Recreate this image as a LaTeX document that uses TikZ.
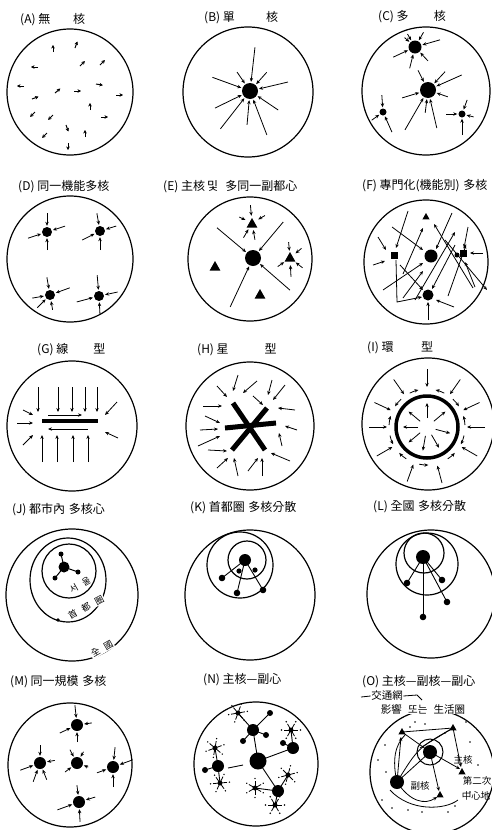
\documentclass[tikz,border=0pt]{standalone}
\usepackage{fontspec}
\newfontfamily\kr{Noto Sans CJK KR}
\usetikzlibrary{arrows.meta}
\tikzset{
  ring/.style={line width=1.2pt},
  arr/.style={line width=0.8pt,-{Stealth[length=4pt,width=3.4pt]}},
  sarr/.style={line width=1pt,-{Stealth[length=3.5pt,width=3.6pt]}},
  thinl/.style={line width=0.8pt},
  ttl/.style={anchor=west,inner sep=0pt,font=\kr\fontsize{12}{12}\selectfont},
  lbl/.style={inner sep=0.6pt,font=\kr\fontsize{9.5}{10}\selectfont},
  rlbl/.style={inner sep=0.6pt,font=\kr\fontsize{9}{10}\selectfont},
}
\newcommand\hub[4]{\begin{scope}[shift={(#1,#2)}]\fill (0,0) circle (#3);
  \foreach \a/\l in {#4} \draw[arr] (\a:\l) -- (\a:{#3+1.2});\end{scope}}
\newcommand\spokes[4]{\begin{scope}[shift={(#1,#2)}]
  \foreach \a/\l in {#4} \draw[arr] (\a:\l) -- (\a:{#3+1.2});\end{scope}}
\newcommand\tri[3]{\fill[shift={(#1,#2)}] (0,-#3) -- (0.9*#3,0.6*#3) -- (-0.9*#3,0.6*#3) -- cycle;}
\newcommand\nstar[3]{\begin{scope}[shift={(#1,#2)},rotate=#3]\fill (0,0) circle (2.5);
  \foreach \a in {0,60,...,300}{\draw[line width=0.8pt] (0,0) -- (\a:7);\fill (\a:9.5) circle (0.8);}\end{scope}}
\newcommand\gap{\hspace{6pt}}
\begin{document}
\begin{tikzpicture}[x=1pt,y=-1pt]
\useasboundingbox (0,0) rectangle (492,830);
% ---------- titles
\node[ttl] (tA) at (20,20) {(A) 無\hspace{1.9em}核};
\node[ttl] (tB) at (204,18) {(B) 單\hspace{2.6em}核};
\node[ttl] (tC) at (378,17) {(C) 多\hspace{2.1em}核};
\node[ttl] (tD) at (18,187) {(D) 同一機能多核};
\node[ttl] (tE) at (163,187) {(E) 主核\,및\hspace{0.6em}多同一副都心};
\node[ttl] (tF) at (362,186) {(F) 專門化(機能別)\hspace{0.3em}多核};
\node[ttl] (tG) at (37,350) {(G) 線\hspace{2.1em}型};
\node[ttl] (tH) at (197,350) {(H) 星\hspace{3em}型};
\node[ttl] (tI) at (367,348) {(I) 環\hspace{2.3em}型};
\node[ttl] (tJ) at (12,510) {(J) 都市內\hspace{0.3em}多核心};
\node[ttl] (tK) at (190,508) {(K) 首都圈\hspace{0.3em}多核分散};
\node[ttl] (tL) at (373,507) {(L) 全國\hspace{0.3em}多核分散};
\node[ttl] (tM) at (10,682) {(M) 同一規模\hspace{0.3em}多核};
\node[ttl] (tN) at (203,680) {(N) 主核—副心};
\node[ttl] (tO) at (362,682) {(O) 主核—副核—副心};
% ---------- A
\draw[ring] (70,92) circle (63);
\foreach \x/\y/\a in {53/52/270, 75/48/290, 38/67/180, 80/66/315, 100/65/315, 24/86/180,
  55/93/320, 74/91/0, 96/84/10, 116/95/0, 32/99/340, 90/110/270, 35/112/135, 53/115/135,
  66/125/70, 47/133/135, 85/137/270, 101/117/0, 68/143/90}
  \draw[sarr] (\x,\y) -- ++(\a:7);
% ---------- B
\draw[ring] (248,92) circle (65);
\hub{250}{91}{8}{276.5/44, 200/40, 235.6/23, 311.8/25, 346.7/39, 154/39, 34/34, 128/48, 95/34, 69/47}
% ---------- C
\draw[ring] (426,91) circle (64);
\hub{415}{47}{6.5}{155/24, 240/15, 300/17, 344/26, 47/19, 104/22, 222/14}
\hub{428}{90}{8}{243/22, 313/25, 336/37, 163/27, 19/21, 120/46, 97/23, 77/39}
\hub{383}{112}{3.5}{266/17, 144/14, 66/22}
\hub{462}{114}{3.5}{180/16, 290/15, 14/12, 90/21}
% ---------- D
\draw[ring] (70,259) circle (63);
\hub{47}{232}{5}{270/19, 342/19, 162/20, 90/18}
\hub{100}{231}{5}{260/18, 153/20, 343/17, 90/19}
\hub{50}{295}{5}{260/18, 170/18, 340/21, 135/18, 80/15}
\hub{99}{296}{5}{265/21, 165/23, 348/19, 87/18}
% ---------- E
\draw[ring] (250,259) circle (62);
\hub{253}{258}{8}{220/47, 310/47, 115/54, 41/49}
\tri{252}{224}{6}
\spokes{252}{223}{6}{265/18, 205/14, 330/15, 120/17, 80/17}
\tri{290}{258}{6}
\spokes{290}{258}{6}{265/16, 320/15, 145/15, 87/19, 38/16}
\tri{215}{267}{6}
\tri{260}{295}{6}
% ---------- F
\draw[ring] (426,262) circle (62);
\tri{426}{217}{4}
\fill (431,256) circle (6.5);
\fill (391,252) rectangle (398,259);
\fill (460,250) rectangle (467,257);
\fill (457,255) circle (2.5);
\fill (428,295) circle (5.5);
\foreach \a/\b/\c/\d in {378/237/386/250, 373/265/385/261, 408/211/396/248, 392/227/423/250,
  403/274/423/228, 452/213/436/249, 473/288/434/224, 468/227/464/248, 483/253/470/253,
  475/287/465/262, 383/290/423/263, 403/298/423/271, 400/265/423/290, 455/245/432/289,
  454/307/436/300, 428/320/428/302, 448/296/466/245, 445/240/487/290, 415/300/455/232}
  \draw[arr] (\a,\b) -- (\c,\d);
\draw[arr] (396,260) -- (397,302) -- (422,297);
% ---------- G
\draw[ring] (72,426) circle (65);
\draw[line width=4pt] (42,421) -- (98,421);
\draw[arr] (48,415) -- (82,415);
\draw[arr] (88,429) -- (48,429);
\foreach \x in {38,58,72,85,97} \draw[arr] (\x,387) -- (\x,412);
\foreach \x in {42,57,73,88} \draw[arr] (\x,462) -- (\x,435);
\draw[arr] (23,410) -- (33,415);
\draw[arr] (17,423) -- (33,423);
\draw[arr] (23,445) -- (33,435);
\draw[arr] (117,402) -- (105,415);
\draw[arr] (118,438) -- (105,432);
% ---------- H
\draw[ring] (250,426) circle (64);
\draw[line width=5pt] (225,428) -- (276,423);
\draw[line width=5pt] (233,403) -- (265,450);
\draw[line width=5pt] (267,408) -- (232,450);
\foreach \a/\b/\c/\d in {217/386/227/397, 238/375/233/391, 257/381/243/393, 272/380/268/395,
  285/385/273/400, 253/396/263/405, 203/406/222/406, 295/410/278/408, 205/416/220/423,
  200/430/218/429, 297/430/285/426, 198/446/220/436, 208/450/227/451, 282/446/279/433,
  217/468/228/458, 238/476/234/458, 248/471/258/458, 262/476/262/458, 290/461/271/453}
  \draw[arr] (\a,\b) -- (\c,\d);
% ---------- I
\draw[ring] (428,424) circle (66);
\draw[line width=3.5pt] (427,427) circle (31);
\begin{scope}[shift={(427,427)}]
  \foreach \a in {270,235,305,205,335,180,0,150,30,110,75} \draw[arr] (\a:58) -- (\a:40);
  \foreach \a in {250,320,190,20,130}  \draw[arr] (\a-7:38) arc[start angle=\a-7,end angle=\a+7,radius=38];
  \foreach \a in {290,220,350,160,50,95} \draw[arr] (\a+7:38) arc[start angle=\a+7,end angle=\a-7,radius=38];
  \foreach \a in {270,220,180,140,100,60,15,320} \draw[arr] (\a:9) -- (\a:24);
\end{scope}
% ---------- J
\draw[ring] (72,595) circle (66);
\draw[ring] (68,580) ellipse (38 and 42);
\draw[ring] (69,571) circle (27);
\fill (64,567) circle (5.5);
\foreach \x/\y in {61/554, 78/572, 55/578} {\draw[line width=1pt] (64,567) -- (\x,\y); \fill (\x,\y) circle (2.5);}
\fill (58,620) circle (1.8);
\node[rlbl,rotate=30] (seoul) at (80,585) {서\gap 울};
\node[rlbl,rotate=28,fill=white] (sudo) at (86,607) {首\gap 都\gap 圈};
\node[rlbl,rotate=30,fill=white] (jeon) at (102,649) {全\gap 國};
% ---------- K
\draw[ring] (250,595) circle (65);
\draw[ring] (240,565) circle (33);
\draw[ring] (247,560) circle (19);
\fill (245,560) circle (6);
\foreach \x/\y in {222/578, 237/593, 263/590} {\draw[line width=0.9pt] (245,560) -- (\x,\y); \fill (\x,\y) circle (3.3);}
\fill (239,571) circle (2.6);
\fill (255,570) circle (2.6);
% ---------- L
\draw[ring] (431,594) circle (64);
\draw[ring] (427,564) circle (31);
\draw[ring] (424,553) circle (20);
\fill (423,557) circle (7);
\foreach \x/\y in {407/583, 442/580, 423/617, 447/602} {\draw[line width=0.9pt] (423,557) -- (\x,\y); \fill (\x,\y) circle (3.3);}
% ---------- M
\draw[ring] (70,765) circle (62);
\hub{77}{725}{6}{264/20, 352/15, 155/19, 90/17}
\hub{40}{763}{6}{270/18, 160/21, 350/15, 110/20, 68/18}
\hub{77}{763}{6}{242/15, 143/15, 20/12, 300/13}
\hub{113}{767}{6}{276/20, 160/17, 340/21, 90/20}
\hub{79}{802}{6}{263/17, 160/23, 343/17, 87/20}
% ---------- N
\draw[ring] (256,764) circle (62);
\foreach \x/\y in {253/730, 293/748, 278/791} \draw[line width=0.9pt] (258,761) -- (\x,\y);
\draw[line width=0.9pt] (228,768) -- (243,765);
\fill (258,761) circle (8.5);
\foreach \x/\y in {270/713, 243/741, 266/735, 238/713} \draw[line width=0.9pt] (253,730) -- (\x,\y);
\fill (253,730) circle (6);
\foreach \x/\y in {270/713, 243/741, 266/735} \fill (\x,\y) circle (3);
\nstar{238}{713}{10}
\draw[line width=0.9pt] (293,748) -- (283,743);
\draw[line width=0.9pt] (293,748) -- (291,730);
\fill (293,748) circle (6);
\fill (283,743) circle (3);
\nstar{291}{730}{0}
\foreach \x/\y in {205/770, 215/748, 220/783} \draw[line width=0.9pt] (218,766) -- (\x,\y);
\fill (218,766) circle (6);
\fill (205,770) circle (3);
\nstar{215}{748}{20}
\nstar{220}{783}{5}
\foreach \x/\y in {288/775, 255/788, 275/805} \draw[line width=0.9pt] (278,791) -- (\x,\y);
\fill (278,791) circle (6);
\nstar{288}{775}{15}
\nstar{255}{788}{30}
\nstar{275}{805}{0}
% ---------- O
\draw[ring] (432,772) circle (62);
\node[font=\kr\fontsize{10.5}{11}\selectfont,inner sep=0.5pt,fill=white] (kt) at (387,696) {交通網};
\draw[thinl] (361,697) -- (kt.west);
\draw[thinl] (kt.east) -- (417,695) -- (422,700);
\node[font=\kr\fontsize{10.5}{11}\selectfont,inner sep=0.5pt,fill=white] (yh) at (423,709) {影響\hspace{0.6em}또는\hspace{0.6em}生活圈};
\fill (430,752) circle (7);
\draw[line width=1pt] (430,752) circle (13);
\fill (397,782) circle (7);
\tri{402}{732}{4}
\tri{453}{728}{4}
\tri{462}{772}{4}
\tri{440}{795}{4}
\draw[arr] (397,782) -- (401,737);
\draw[thinl] (402,732) -- (453,728);
\draw[thinl] (397,782) .. controls (418,748) .. (453,728);
\draw[thinl] (397,782) -- (430,752);
\draw[thinl] (402,732) -- (430,752);
\draw[thinl] (453,728) -- (420,748);
\draw[arr] (430,752) -- (460,769);
\draw[arr] (430,752) -- (439,791);
\draw[arr] (453,728) -- (461,767);
\draw[thinl] (397,782) .. controls (392,760) and (395,745) .. (405,735);
\draw[arr] (397,782) .. controls (410,802) and (425,805) .. (437,797);
\draw[thinl] (390,790) .. controls (410,812) and (445,810) .. (458,800);
\foreach \x/\y in {385/745, 378/760, 382/800, 392/808, 408/810, 422/812, 445/733, 470/742,
  478/765, 470/792, 455/806, 415/722, 410/727, 425/724, 466/722, 386/772, 448/812}
  \fill (\x,\y) circle (0.9);
\node[lbl] (zh) at (463,760) {主核};
\node[lbl] (bh) at (420,786) {副核};
\node[lbl] (de) at (477,781) {第二次};
\node[lbl] (jc) at (476,796) {中心地};
\end{tikzpicture}
\end{document}
